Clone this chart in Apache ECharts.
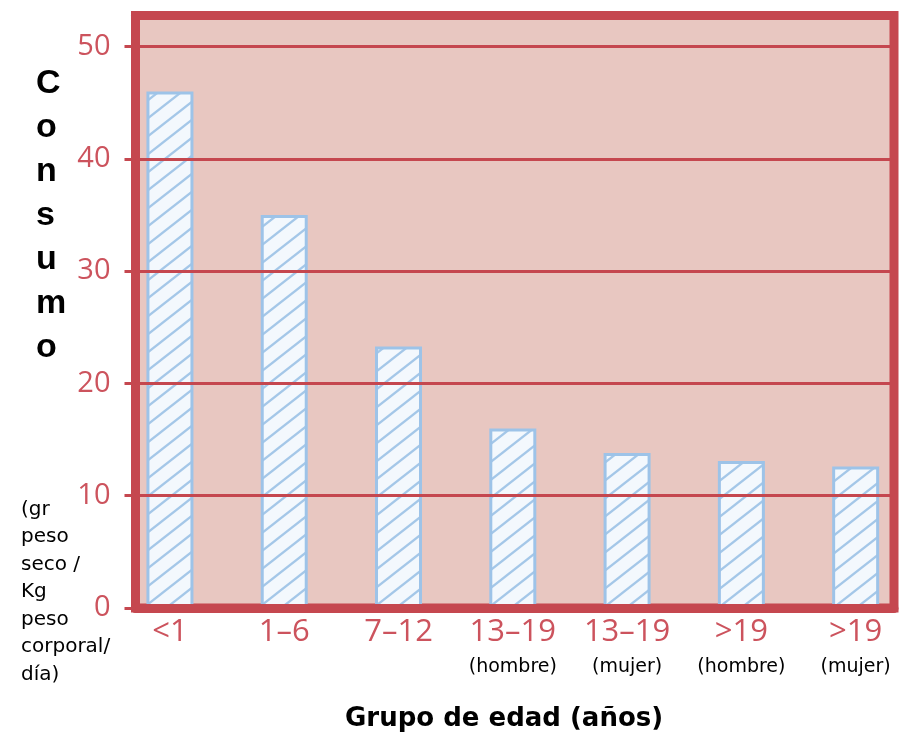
<!DOCTYPE html>
<html>
<head>
<meta charset="utf-8">
<script src="https://cdn.jsdelivr.net/npm/echarts@6/dist/echarts.min.js"></script>
<style>
html,body{margin:0;padding:0;background:#fff;}
#chart{width:914px;height:733px;}
</style>
</head>
<body>
<div id="chart"></div>
<script>
// ---- data ----
var ageGroups = ['<1', '1–6', '7–12', '13–19', '13–19', '>19', '>19'];
var sexLabels = ['', '', '', '(hombre)', '(mujer)', '(hombre)', '(mujer)'];
var consumo = [46, 35, 23.3, 16, 13.8, 13.1, 12.6];
var yTicks = [0, 10, 20, 30, 40, 50];
var yTitleLetters = ['C', 'o', 'n', 's', 'u', 'm', 'o'];
var yUnitLines = ['(gr', 'peso', 'seco /', 'Kg', 'peso', 'corporal/', 'día)'];
var xTitle = 'Grupo de edad (años)';

// ---- styles ----
var RED = '#c5474f';
var RED_TEXT = '#cc535d';
var PINK = '#e8c7c1';
var BLUE = '#9dc3e8';

var categories = ageGroups.map(function (g, i) { return g + '|' + i; });

// hatch pattern
var pc = document.createElement('canvas');
pc.width = 23; pc.height = 18;
var ctx = pc.getContext('2d');
ctx.fillStyle = '#f3f8fd';
ctx.fillRect(0, 0, 23, 18);
ctx.strokeStyle = '#a4c7e8';
ctx.lineWidth = 2.3;
[-23, 0, 23].forEach(function (dx) {
  ctx.beginPath();
  ctx.moveTo(dx - 23, 36);
  ctx.lineTo(dx + 46, -18);
  ctx.stroke();
});

var Y_MAX = 52.78;

var chart = echarts.init(document.getElementById('chart'), null, {renderer: 'canvas'});
chart.setOption({
  animation: false,
  backgroundColor: '#ffffff',
  grid: [
    {left: 135.5, right: 20, top: 15.5, bottom: 125, show: true,
     backgroundColor: PINK, borderColor: RED, borderWidth: 9},
    {left: 112.8, width: 800, top: 15.5, bottom: 125, show: false}
  ],
  xAxis: [
    {type: 'value', gridIndex: 0, min: 0, max: 1, z: 5,
     axisLine: {show: true, lineStyle: {color: RED, width: 9}},
     axisTick: {show: false}, axisLabel: {show: false}, splitLine: {show: false}},
    {type: 'category', gridIndex: 1, data: categories,
     axisLine: {show: false}, axisTick: {show: false}, splitLine: {show: false},
     axisLabel: {
       interval: 0, margin: 7,
       formatter: function (v, i) {
         var s = '{a|' + ageGroups[i] + '}';
         if (sexLabels[i]) s += '\n{b|' + sexLabels[i] + '}';
         return s;
       },
       rich: {
         a: {fontFamily: 'Open Sans', fontSize: 31, color: RED_TEXT, lineHeight: 34, align: 'center'},
         b: {fontFamily: 'DejaVu Sans', fontSize: 19, color: '#000', lineHeight: 36, align: 'center'}
       }
     }}
  ],
  yAxis: [
    {type: 'value', gridIndex: 0, min: 0, max: Y_MAX, interval: 10, z: 5,
     axisLine: {show: true, lineStyle: {color: RED, width: 9}},
     axisTick: {show: true, length: 11, customValues: yTicks, lineStyle: {color: RED, width: 3}},
     axisLabel: {show: true, margin: 25, customValues: yTicks,
       fontFamily: 'Open Sans', fontSize: 29, color: RED_TEXT},
     splitLine: {show: true, lineStyle: {color: RED, width: 3}}},
    {type: 'value', gridIndex: 1, min: 0, max: Y_MAX, interval: 10, show: false,
     splitLine: {show: false}}
  ],
  series: [{
    type: 'bar', xAxisIndex: 1, yAxisIndex: 1, data: consumo, barWidth: 47,
    itemStyle: {color: {image: pc, repeat: 'repeat'}, borderColor: BLUE, borderWidth: 3}
  }],
  graphic: [
    {type: 'text', left: 36, top: 62, z: 10,
     style: {text: yTitleLetters.join('\n'), font: 'bold 34px "Liberation Sans"', fill: '#000',
       lineHeight: 44, align: 'center'}},
    {type: 'text', left: 21, top: 496, z: 10,
     style: {text: yUnitLines.join('\n'), font: '20px "DejaVu Sans"', fill: '#000', lineHeight: 27.5}},
    {type: 'text', left: 345, top: 706, z: 10,
     style: {text: xTitle, font: 'bold 26px "DejaVu Sans"', fill: '#000'}}
  ]
});
</script>
</body>
</html>
